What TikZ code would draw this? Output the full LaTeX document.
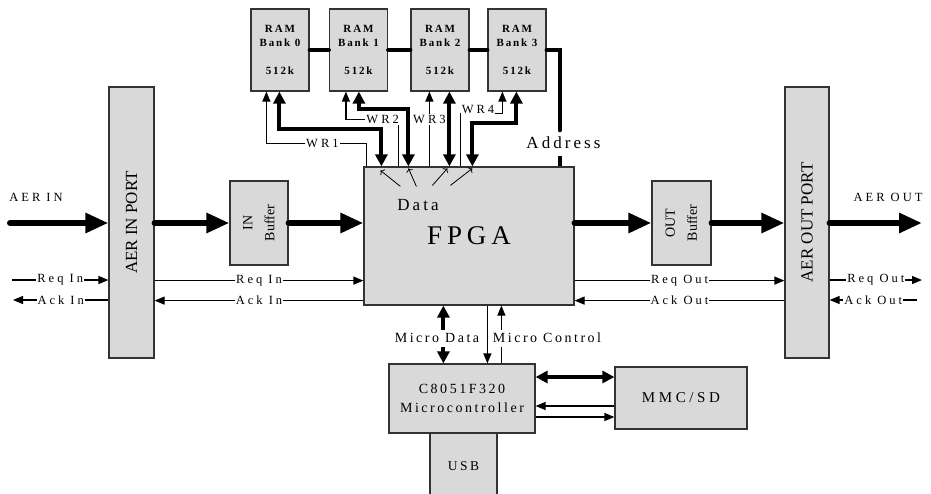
\documentclass[tikz,border=0pt]{standalone}
\usepackage{fontspec}
\setmainfont{Liberation Serif}
\newfontfamily\lblfont[LetterSpace=24]{Liberation Serif}
\newfontfamily\trackfont[LetterSpace=18]{Liberation Serif}
\newfontfamily\bankfont[LetterSpace=17]{Liberation Serif}
\usetikzlibrary{arrows.meta}
\tikzset{
  blk/.style={draw=black!80, fill=gray!30, line width=1.2pt, inner sep=0pt, align=center},
  bank/.style={blk, minimum width=58pt, minimum height=82pt, font=\bankfont\bfseries\fontsize{11}{14}\selectfont},
  bigbus/.style={line width=6pt, line cap=round, -{Triangle[length=23pt,width=19pt]}},
  bus/.style={line width=4pt, line cap=round},
  dbus/.style={line width=4pt, {Triangle[length=12pt,width=12pt]}-{Triangle[length=12pt,width=12pt]}},
  sig/.style={line width=1.2pt, -{Triangle[length=10pt,width=8pt]}},
  lab/.style={fill=white, inner sep=1pt, font=\lblfont\fontsize{12.5}{14}\selectfont},
  mlab/.style={fill=white, inner sep=1pt, minimum height=17pt, font=\trackfont\fontsize{14}{17}\selectfont}
}

\begin{document}
\begin{tikzpicture}[x=1pt,y=-1pt]
  \useasboundingbox (0,0) rectangle (931,493);
  % blocks
  \foreach \i/\x in {0/280,1/358.5,2/440,3/517}
    \node[bank] (bank\i) at (\x,50) {RAM\\Bank \i\\[14pt]512k};
  \node[blk, minimum width=210pt, minimum height=138pt, font=\trackfont\fontsize{27}{30}\selectfont] (fpga) at (469,236) {FPGA};
  \node[blk, minimum width=45pt, minimum height=271pt, font=\fontsize{17}{20}\selectfont] (inport) at (131.5,222.5) {\rotatebox{90}{AER IN PORT}};
  \node[blk, minimum width=44pt, minimum height=271pt, font=\fontsize{17}{20}\selectfont] (outport) at (807,222.5) {\rotatebox{90}{AER OUT PORT}};
  \node[blk, minimum width=58pt, minimum height=84pt, font=\fontsize{14}{22}\selectfont] (inbuf) at (259,223) {\rotatebox{90}{\begin{tabular}{@{}c@{}}IN\\Buffer\end{tabular}}};
  \node[blk, minimum width=59pt, minimum height=84pt, font=\fontsize{14}{22}\selectfont] (outbuf) at (681.5,223) {\rotatebox{90}{\begin{tabular}{@{}c@{}}OUT\\Buffer\end{tabular}}};
  \node[blk, minimum width=146pt, minimum height=69pt, font=\trackfont\fontsize{14}{19}\selectfont] (micro) at (462,398.5) {C8051F320\\Microcontroller};
  \node[blk, minimum width=67pt, minimum height=66pt, font=\trackfont\fontsize{13.5}{16}\selectfont] (usb) at (463.5,466) {USB};
  \node[blk, minimum width=132pt, minimum height=62pt, font=\lblfont\fontsize{15}{18}\selectfont] (mmc) at (681,398) {MMC/SD};
  \node[font=\trackfont\fontsize{17}{20}\selectfont] (data) at (418,205) {Data};

  % RAM bus and address
  \foreach \a/\b in {0/1,1/2,2/3}
    \draw[bus] (bank\a.east) -- (bank\b.west);
  \node[inner sep=0pt, minimum height=25pt, font=\trackfont\fontsize{17}{20}\selectfont] (addr) at (563.5,143) {Address};
  \draw[bus] (bank3.east) -- ++(13,0) coordinate (abend) -- (abend |- addr.north);
  \draw[bus,line cap=butt] (abend |- addr.south) -- (abend |- fpga.north);

  % write strobes and data lines
  \draw[sig] ([xshift=3pt]fpga.north west) |- node[lab,pos=.72] (wr1) {WR1} ([xshift=16pt,yshift=-52pt]bank0.south west) -- ([xshift=16pt]bank0.south west);
  \draw[dbus] ([xshift=18pt]fpga.north west) |- ([xshift=29pt,yshift=-37pt]bank0.south west) -- ([xshift=29pt]bank0.south west);
  \draw[sig] ([xshift=35pt]fpga.north west) |- node[lab,pos=.65] (wr2) {WR2} ([xshift=17pt,yshift=-28pt]bank1.south west) -- ([xshift=17pt]bank1.south west);
  \draw[dbus] ([xshift=45pt]fpga.north west) |- ([xshift=30pt,yshift=-17pt]bank1.south west) -- ([xshift=30pt]bank1.south west);
  \draw[sig] ([xshift=66pt]fpga.north west) -- node[lab,pos=.63] (wr3) {WR3} ([xshift=19pt]bank2.south west);
  \draw[dbus] ([xshift=86pt]fpga.north west) -- ([xshift=39pt]bank2.south west);
  \draw[sig] ([xshift=97pt]fpga.north west) |- node[lab,pos=.71,yshift=4pt] (wr4) {WR4} ([xshift=15pt,yshift=-22pt]bank3.south west) -- ([xshift=15pt]bank3.south west);
  \draw[dbus] ([xshift=109pt]fpga.north west) |- ([xshift=29pt,yshift=-31pt]bank3.south west) -- ([xshift=29pt]bank3.south west);
  \foreach \sx/\sy/\ex/\ey in {37/20/17/4, 53/20/45/2, 69/19/84/2, 87/19/109/2}
    \draw[line width=0.8pt,->] ([xshift=\sx pt,yshift=-\sy pt]fpga.north west) -- ([xshift=\ex pt,yshift=-\ey pt]fpga.north west);

  % AER data path
  \coordinate (ain) at (10,223);
  \coordinate (aout) at (922,223);
  \node[lab] (ainlbl) at (36,197) {AER IN};
  \node[lab] (aoutlbl) at (888,197) {AER OUT};
  \draw[bigbus] (ain) -- (ain -| inport.west);
  \draw[bigbus] (inbuf.west -| inport.east) -- (inbuf.west);
  \draw[bigbus] (inbuf.east) -- (inbuf.east -| fpga.west);
  \draw[bigbus] (outbuf.west -| fpga.east) -- (outbuf.west);
  \draw[bigbus] (outbuf.east) -- (outbuf.east -| outport.west);
  \draw[bigbus] (aout -| outport.east) -- (aout);

  % handshake
  \coordinate (reqin) at ([yshift=25pt]fpga.south west);
  \coordinate (ackin) at ([yshift=5pt]fpga.south west);
  \coordinate (reqout) at ([yshift=25pt]fpga.south east);
  \coordinate (ackout) at ([yshift=5pt]fpga.south east);
  \coordinate (reql) at (12,280);
  \coordinate (ackl) at (13,300);
  \coordinate (reqr) at (922,280);
  \coordinate (ackr) at (917,300);
  \draw[sig] (reql) -- node[lab] (rq0) {Req In} (reql -| inport.west);
  \draw[sig] (ackl -| inport.west) -- node[lab] (ak0) {Ack In} (ackl);
  \draw[sig] (reqin -| inport.east) -- node[lab] (rq1) {Req In} (reqin);
  \draw[sig] (ackin) -- node[lab] (ak1) {Ack In} (ackin -| inport.east);
  \draw[sig] (reqout) -- node[lab] (rq2) {Req Out} (reqout -| outport.west);
  \draw[sig] (ackout -| outport.west) -- node[lab] (ak2) {Ack Out} (ackout);
  \draw[sig] (reqr -| outport.east) -- node[lab] (rq3) {Req Out} (reqr);
  \draw[sig] (ackr) -- node[lab] (ak3) {Ack Out} (ackr -| outport.east);

  % microcontroller
  \draw[dbus] ([xshift=80pt]fpga.south west) -- ([xshift=55pt]micro.north west);
  \draw[sig] ([xshift=124pt]fpga.south west) -- ([xshift=99pt]micro.north west);
  \draw[sig] ([xshift=113pt]micro.north west) -- ([xshift=138pt]fpga.south west);
  \node[mlab] (mdata) at (437,338) {Micro Data};
  \node[mlab] (mctrl) at (547,338) {Micro Control};
  \coordinate (mm1) at ([yshift=21pt]mmc.west);
  \coordinate (mm2) at ([yshift=-8pt]mmc.west);
  \coordinate (mm3) at ([yshift=-19pt]mmc.west);
  \draw[dbus] (mm1 -| micro.east) -- (mm1);
  \draw[sig] (mm2) -- (mm2 -| micro.east);
  \draw[sig] (mm3 -| micro.east) -- (mm3);
\end{tikzpicture}
\end{document}
